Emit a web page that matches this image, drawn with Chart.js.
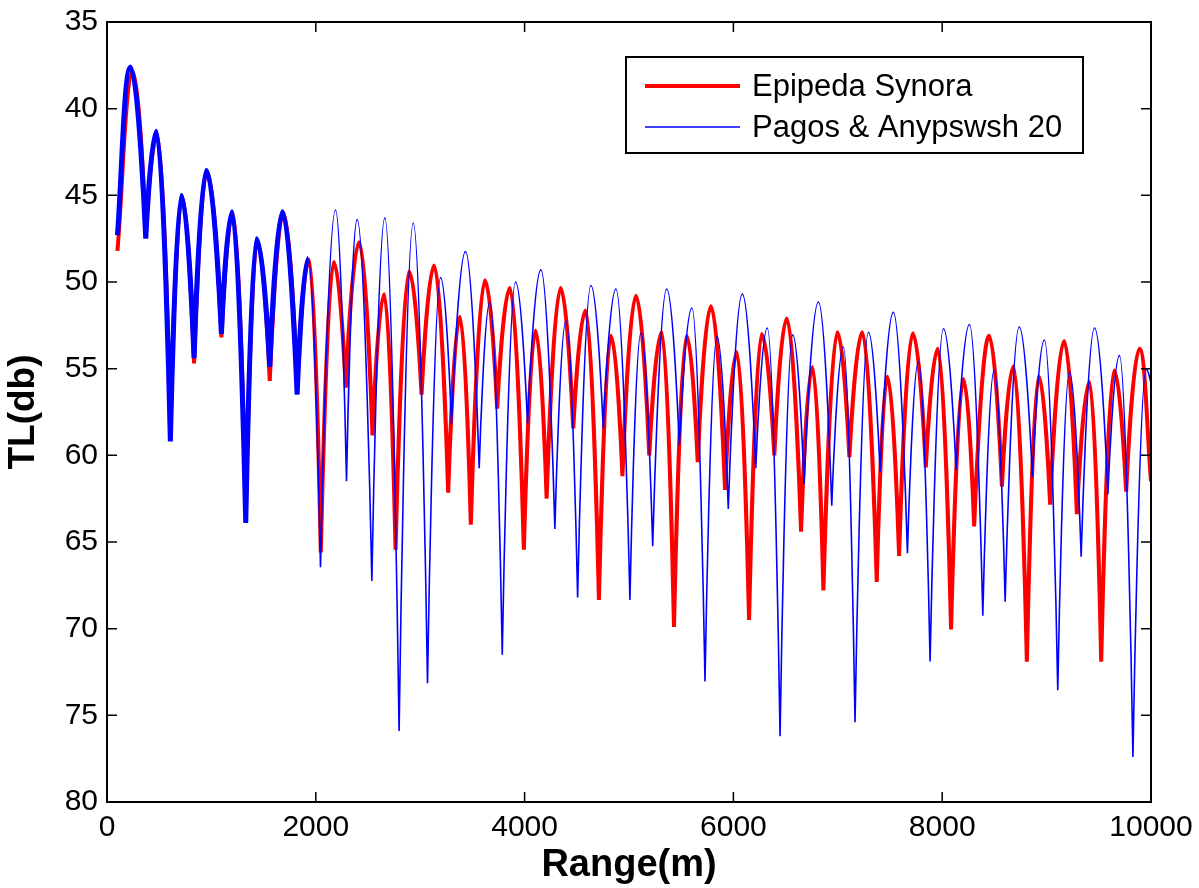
<!DOCTYPE html>
<html>
<head>
<meta charset="utf-8">
<script src="https://cdn.jsdelivr.net/npm/chart.js@4/dist/chart.umd.min.js"></script>
<style>
  body { margin: 0; background: #fff; }
  canvas { display: block; }
</style>
</head>
<body>
<canvas id="tlChart" width="1199" height="888"></canvas>
<script>
// TL vs range, two models
const seriesNames = ['Epipeda Synora', 'Pagos & Anypswsh 20'];
const xTicks = [0, 2000, 4000, 6000, 8000, 10000];
const yTicks = [35, 40, 45, 50, 55, 60, 65, 70, 75, 80];

// peaks and nulls (range in m, TL in dB)
const flatRange = [100, 250, 371, 480, 607, 718, 834, 958, 1096, 1205, 1329, 1440, 1559, 1690, 1821, 1935,
  2048, 2172, 2287, 2415, 2543, 2655, 2764, 2894, 3013, 3134, 3268, 3380, 3485, 3620, 3737, 3859,
  3993, 4105, 4211, 4345, 4466, 4584, 4712, 4827, 4937, 5067, 5194, 5313, 5431, 5552, 5658, 5785,
  5920, 6032, 6150, 6271, 6392, 6511, 6648, 6757, 6862, 6996, 7111, 7235, 7373, 7475, 7587, 7718,
  7843, 7958, 8085, 8203, 8306, 8449, 8572, 8682, 8811, 8925, 9034, 9168, 9290, 9411, 9523, 9647,
  9762, 9890, 10000];
const flatTL = [48.2, 37.9, 47.3, 41.5, 58.6, 45.1, 54.7, 43.6, 53.2, 46.0, 63.4, 47.6, 55.7, 46.0, 56.0, 48.7,
  65.6, 48.85, 56.1, 47.7, 58.85, 50.7, 65.45, 49.4, 56.5, 49.05, 62.15, 52.0, 64.0, 49.9, 57.3, 50.35,
  65.45, 52.8, 62.5, 50.35, 58.45, 51.65, 68.35, 53.1, 61.2, 50.8, 60.0, 52.9, 69.9, 53.1, 60.4, 51.4,
  62.0, 54.05, 69.5, 53.0, 60.0, 52.1, 64.4, 54.9, 67.8, 52.9, 60.1, 52.9, 67.3, 55.45, 65.8, 52.95,
  60.7, 53.85, 70.05, 55.6, 64.1, 53.1, 61.8, 54.87, 71.9, 55.44, 62.85, 53.4, 63.4, 55.77, 71.9, 55.1,
  62.1, 53.85, 61.5];

const roughRange = [100, 225, 371, 473, 607, 713, 834, 952, 1096, 1198, 1329, 1432, 1559, 1681, 1821, 1926,
  2045, 2189, 2294, 2396, 2537, 2661, 2798, 2933, 3070, 3195, 3300, 3434, 3565, 3667, 3786, 3913,
  4028, 4156, 4290, 4396, 4508, 4635, 4753, 4875, 5009, 5114, 5227, 5361, 5482, 5603, 5728, 5843,
  5951, 6085, 6214, 6325, 6447, 6568, 6677, 6814, 6942, 7053, 7165, 7293, 7405, 7532, 7667, 7772,
  7884, 8012, 8133, 8261, 8389, 8497, 8603, 8737, 8864, 8979, 9107, 9219, 9331, 9459, 9587, 9698,
  9827, 9954, 10000];
const roughTL = [47.3, 37.6, 47.5, 41.3, 59.2, 45.0, 54.4, 43.55, 53.0, 45.95, 63.9, 47.5, 54.9, 45.95, 56.5, 48.65,
  66.45, 45.85, 61.5, 46.4, 67.25, 46.3, 75.9, 46.6, 73.15, 49.75, 58.2, 48.25, 60.75, 51.15, 71.5, 50.0,
  58.15, 49.3, 64.25, 52.25, 68.2, 50.2, 58.45, 50.4, 68.35, 52.95, 65.25, 50.4, 59.45, 51.5, 73.05, 53.15,
  63.1, 50.7, 60.75, 52.65, 76.2, 53.05, 61.65, 51.15, 62.9, 53.75, 75.4, 52.9, 60.95, 51.75, 65.65, 54.6,
  71.9, 52.7, 60.85, 52.45, 69.25, 55.1, 68.45, 52.6, 61.25, 53.35, 73.55, 55.2, 65.85, 52.65, 62.25, 54.25,
  77.4, 55.05, 55.8];

const FONT = '"Liberation Sans", Arial, Helvetica, sans-serif';

function pairs(xs, ys) {
  return xs.map((x, i) => ({x: x, y: ys[i]}));
}

// nulls are sharp, maxima are broad: reshape the control points chart.js made
const cusps = {
  id: 'cusps',
  beforeDatasetDraw(chart, args) {
    const meta = args.meta;
    meta.dataset.updateControlPoints(chart.chartArea, 'x');
    const pts = meta.data;
    for (let i = 1; i < pts.length - 1; i++) {
      const p = pts[i], a = pts[i - 1], b = pts[i + 1];
      if (p.y > a.y && p.y > b.y) {
        p.cp1x = p.cp2x = p.x;
        p.cp1y = p.cp2y = p.y;
      } else if (p.y < a.y && p.y < b.y) {
        p.cp1x = p.x - 0.5 * (p.x - a.x);
        p.cp2x = p.x + 0.5 * (b.x - p.x);
        p.cp1y = p.cp2y = p.y;
      }
    }
  }
};

// box, inward ticks and the boxed legend
const frame = {
  id: 'frame',
  afterDatasetsDraw(chart) {
    const {ctx, chartArea: a, scales} = chart;
    ctx.save();
    ctx.strokeStyle = '#000';
    ctx.lineWidth = 1.5;
    ctx.beginPath();
    scales.x.ticks.forEach(t => {
      const px = scales.x.getPixelForValue(t.value);
      ctx.moveTo(px, a.bottom); ctx.lineTo(px, a.bottom - 10);
      ctx.moveTo(px, a.top); ctx.lineTo(px, a.top + 10);
    });
    scales.y.ticks.forEach(t => {
      const py = scales.y.getPixelForValue(t.value);
      ctx.moveTo(a.left, py); ctx.lineTo(a.left + 10, py);
      ctx.moveTo(a.right, py); ctx.lineTo(a.right - 10, py);
    });
    ctx.stroke();
    ctx.lineWidth = 2;
    ctx.strokeRect(a.left, a.top, a.right - a.left, a.bottom - a.top);

    // legend
    const bx = 626, by = 57, bw = 457, bh = 96;
    ctx.fillStyle = '#fff';
    ctx.fillRect(bx, by, bw, bh);
    ctx.strokeRect(bx, by, bw, bh);
    ctx.font = '31px ' + FONT;
    ctx.textBaseline = 'middle';
    ctx.textAlign = 'left';
    const rows = [86, 127];
    chart.data.datasets.forEach((ds, i) => {
      ctx.strokeStyle = ds.borderColor;
      ctx.lineWidth = i === 0 ? 4 : 1.6;
      ctx.beginPath();
      ctx.moveTo(645, rows[i]);
      ctx.lineTo(740, rows[i]);
      ctx.stroke();
      ctx.fillStyle = '#000';
      ctx.fillText(ds.label, 752, rows[i] + 1);
    });
    ctx.restore();
  }
};

new Chart(document.getElementById('tlChart'), {
  type: 'line',
  data: {
    datasets: [{
      label: seriesNames[0],
      data: pairs(flatRange, flatTL),
      borderColor: '#ff0000',
      borderWidth: 4,
      pointRadius: 0,
      cubicInterpolationMode: 'monotone',
      order: 1
    }, {
      label: seriesNames[1],
      data: pairs(roughRange, roughTL),
      borderColor: '#0000ff',
      borderWidth: 1.6,
      pointRadius: 0,
      cubicInterpolationMode: 'monotone',
      order: 0,
      segment: {
        borderWidth: c => c.p1.parsed.x <= 1926 ? 5 : 1.6
      }
    }]
  },
  options: {
    responsive: false,
    animation: false,
    devicePixelRatio: 1,
    layout: {padding: {top: 22, right: 48, left: 0, bottom: 0}},
    plugins: {
      legend: {display: false},
      tooltip: {enabled: false}
    },
    scales: {
      x: {
        type: 'linear',
        min: 0,
        max: 10000,
        afterBuildTicks: s => { s.ticks = xTicks.map(v => ({value: v})); },
        afterFit: s => { s.height = 86; s.paddingLeft = 0; s.paddingRight = 0; },
        ticks: {color: '#000', font: {family: FONT, size: 30}, padding: 8, maxRotation: 0,
          callback: v => String(v)},
        grid: {display: false, drawTicks: false},
        border: {display: false},
        title: {display: true, text: 'Range(m)', color: '#000',
          font: {family: FONT, size: 38, weight: 'bold'}, padding: {top: 0, bottom: 0}}
      },
      y: {
        type: 'linear',
        min: 35,
        max: 80,
        reverse: true,
        afterBuildTicks: s => { s.ticks = yTicks.map(v => ({value: v})); },
        afterFit: s => { s.width = 107; s.paddingTop = 0; s.paddingBottom = 0; },
        ticks: {color: '#000', font: {family: FONT, size: 30}, padding: 9},
        grid: {display: false, drawTicks: false},
        border: {display: false},
        title: {display: true, text: 'TL(db)', color: '#000',
          font: {family: FONT, size: 37, weight: 'bold'}, padding: {top: 2, bottom: 0}}
      }
    }
  },
  plugins: [cusps, frame]
});
</script>
</body>
</html>
